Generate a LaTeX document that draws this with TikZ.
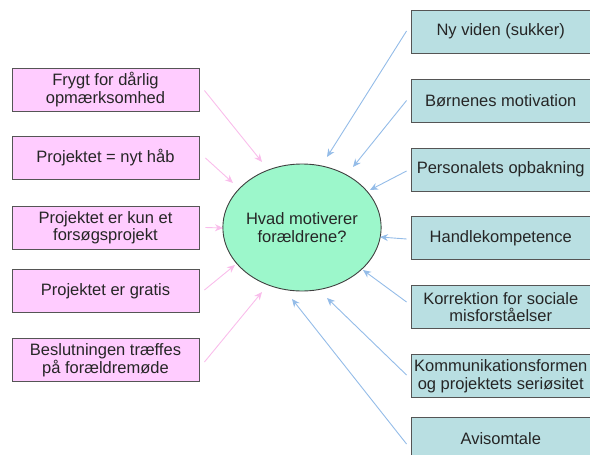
\documentclass[tikz,border=0pt]{standalone}
\usepackage{fontspec}
\setmainfont{Liberation Sans}
\usetikzlibrary{shapes.geometric,arrows.meta}
\definecolor{pinkfill}{HTML}{FFCCFF}
\definecolor{tealfill}{HTML}{B9DFE2}
\definecolor{mint}{HTML}{9CF7CB}
\definecolor{pinkarrow}{HTML}{F9BDEB}
\definecolor{bluearrow}{HTML}{94BCE8}
\definecolor{boxline}{HTML}{555555}
\tikzset{
  lbox/.style={draw=boxline, line width=0.9pt, fill=pinkfill, minimum width=187pt, minimum height=43pt, inner sep=0pt, align=center, font=\fontsize{16.5}{17.5}\selectfont, text=black!85},
  rbox/.style={draw=boxline, line width=0.9pt, fill=tealfill, minimum width=179.5pt, minimum height=43pt, inner sep=0pt, align=center, font=\fontsize{16.5}{17.5}\selectfont, text=black!85},
  center/.style={ellipse, draw=black!75, line width=0.9pt, fill=mint, minimum width=144pt, minimum height=127pt, inner sep=0pt, align=center, font=\fontsize{16.5}{18}\selectfont, text=black!85},
  parrow/.style={draw=pinkarrow, line width=0.9pt, -{Stealth[length=8pt,width=7pt]}},
  barrow/.style={draw=bluearrow, line width=0.9pt, -{Stealth[length=8pt,width=7pt]}},
}
\begin{document}
\begin{tikzpicture}[x=1pt,y=-1pt]
\useasboundingbox (0,0) rectangle (590,455);
\clip (0,0) rectangle (590,455);
% centre
\node[center] (C) at (302,227.5) {Hvad motiverer\\forældrene?};
% left boxes
\node[lbox] (L1) at (105.5,89.5) {Frygt for dårlig\\opmærksomhed};
\node[lbox] (L2) at (105.5,158) {Projektet = nyt håb};
\node[lbox] (L3) at (105.5,227.5) {Projektet er kun et\\forsøgsprojekt};
\node[lbox] (L4) at (105.5,291) {Projektet er gratis};
\node[lbox] (L5) at (105.5,360) {Beslutningen træffes\\på forældremøde};
% right boxes
\node[rbox] (R1) at (500.75,31.5) {Ny viden (sukker)};
\node[rbox] (R2) at (500.75,100.5) {Børnenes motivation};
\node[rbox] (R3) at (500.75,169.5) {Personalets opbakning};
\node[rbox] (R4) at (500.75,238) {Handlekompetence};
\node[rbox] (R5) at (500.75,307) {Korrektion for sociale\\misforståelser};
\node[rbox] (R6) at (500.75,376) {Kommunikationsformen\\og projektets seriøsitet};
\node[rbox, minimum height=43pt] (R7) at (500.75,438.5) {Avisomtale};
% arrow tips
\coordinate (e1) at (262,162);
\coordinate (e2) at (233,183);
\coordinate (e3) at (223,228);
\coordinate (e4) at (235,265);
\coordinate (e5) at (262,292);
\coordinate (f1) at (327,157);
\coordinate (f2) at (353,167);
\coordinate (f3) at (370,190);
\coordinate (f4) at (380,237);
\coordinate (f5) at (363,270);
\coordinate (f6) at (327,298);
\coordinate (f7) at (292,299);
% pink arrows
\draw[parrow] ([xshift=5pt,yshift=-1pt]L1.east) -- (e1);
\draw[parrow] ([xshift=6pt]L2.east) -- (e2);
\draw[parrow] ([xshift=6pt]L3.east) -- (e3);
\draw[parrow] ([xshift=5pt,yshift=1pt]L4.east) -- (e4);
\draw[parrow] ([xshift=5pt,yshift=-2pt]L5.east) -- (e5);
% blue arrows
\draw[barrow] ([xshift=-4pt,yshift=0.5pt]R1.west) -- (f1);
\draw[barrow] ([xshift=-4pt]R2.west) -- (f2);
\draw[barrow] ([xshift=-4pt,yshift=-1.5pt]R3.west) -- (f3);
\draw[barrow] ([xshift=-4pt,yshift=-1pt]R4.west) -- (f4);
\draw[barrow] ([xshift=-4pt,yshift=5pt]R5.west) -- (f5);
\draw[barrow] ([xshift=-4pt,yshift=1pt]R6.west) -- (f6);
\draw[barrow] ([xshift=-4pt,yshift=-5.5pt]R7.west) -- (f7);
\end{tikzpicture}
\end{document}
